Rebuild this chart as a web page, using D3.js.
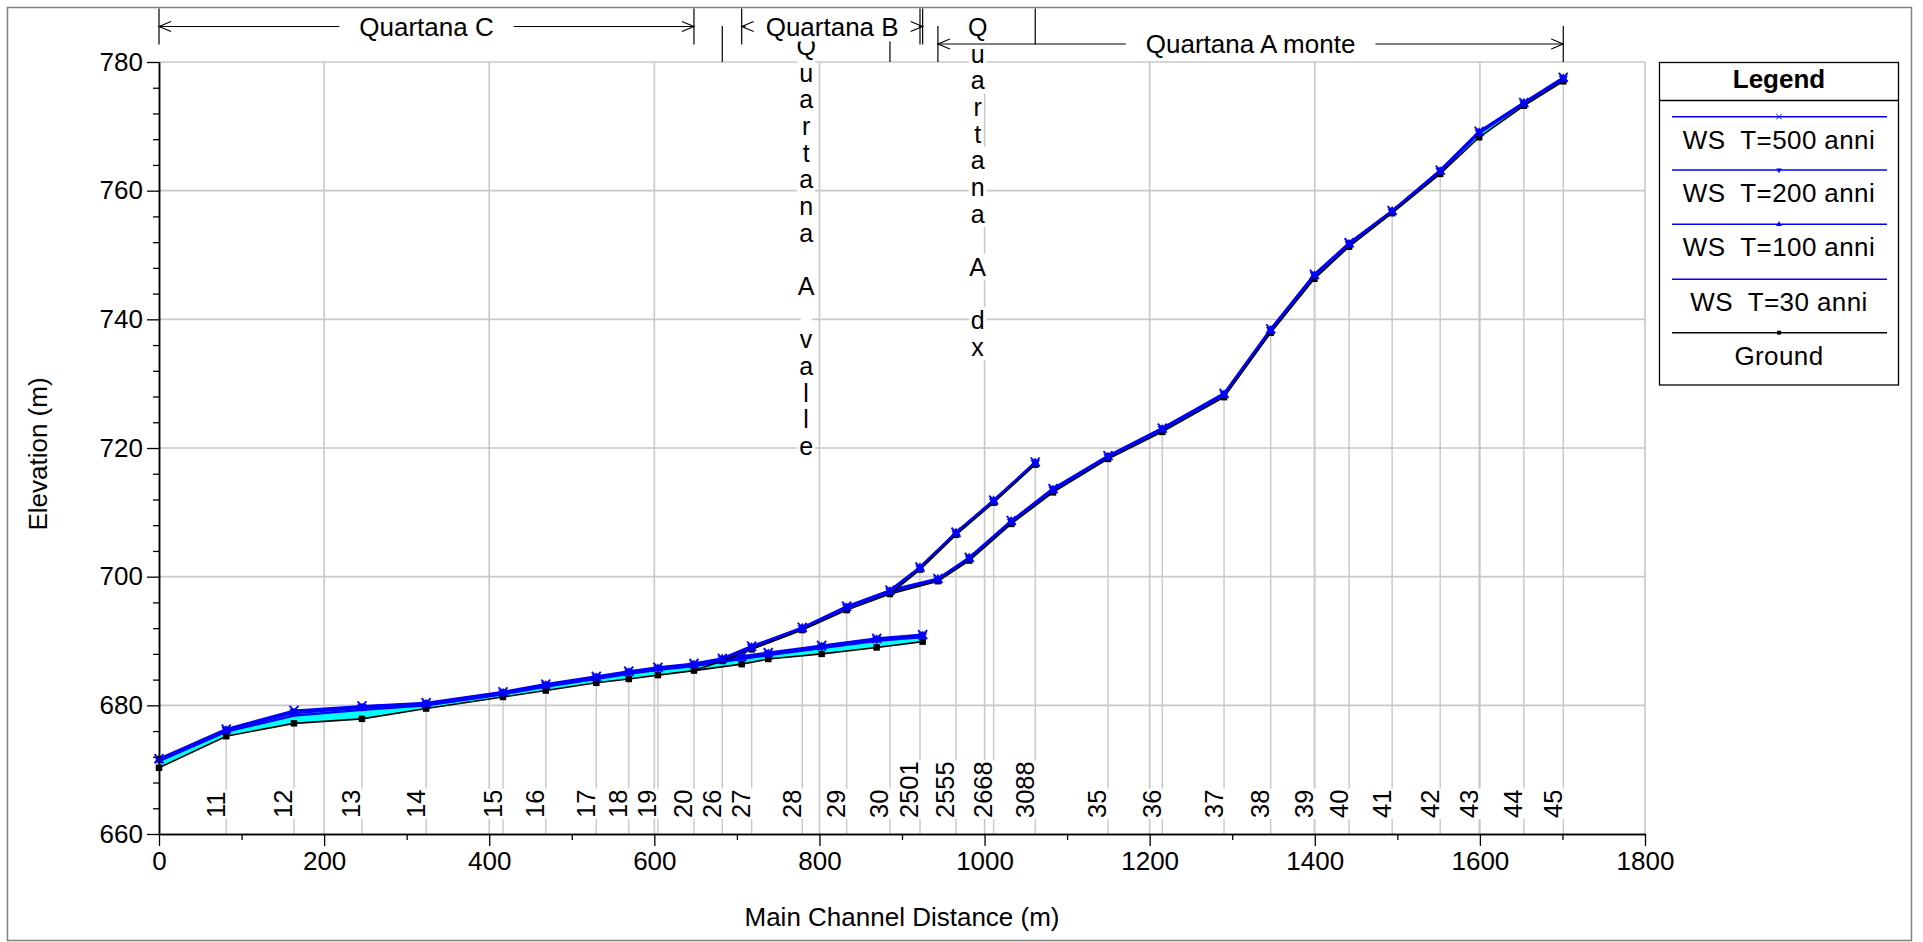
<!DOCTYPE html>
<html><head><meta charset="utf-8">
<script src="https://cdn.jsdelivr.net/npm/d3@7"></script>
<style>
html,body{margin:0;padding:0;background:#fff;}
svg{display:block;font-family:"Liberation Sans",Arial,Helvetica,sans-serif;}
</style></head><body>
<svg id="chart" width="1923" height="942"></svg>
<script>
// ---- Reaches of the Quartana network ----
const reachNames  = ["Quartana C", "Quartana A valle", "Quartana B", "Quartana A dx", "Quartana A monte"];
// reach whose last section each reach is joined to (junction)
const reachParent = [null, "Quartana C", "Quartana C", "Quartana A valle", "Quartana A valle"];

// ---- Cross sections (main channel distance in m, elevations in m) ----
const sectionReach = [
  "Quartana C","Quartana C","Quartana C","Quartana C","Quartana C","Quartana C",
  "Quartana C","Quartana C","Quartana C","Quartana C","Quartana C",
  "Quartana A valle","Quartana A valle","Quartana A valle","Quartana A valle","Quartana A valle",
  "Quartana B","Quartana B","Quartana B","Quartana B","Quartana B",
  "Quartana A dx","Quartana A dx","Quartana A dx","Quartana A dx",
  "Quartana A monte","Quartana A monte","Quartana A monte","Quartana A monte","Quartana A monte",
  "Quartana A monte","Quartana A monte","Quartana A monte","Quartana A monte","Quartana A monte",
  "Quartana A monte","Quartana A monte","Quartana A monte","Quartana A monte","Quartana A monte"
];
const sectionLabel = [
  "", "11","12","13","14","15","16","17","18","19","20",
  "26","27","28","29","30",
  "", "", "", "", "",
  "2501","2555","2668","3088",
  "", "", "", "", "35","36","37","38","39","40","41","42","43","44","45"
];
const sectionDistance = [
  0, 81.4, 163.5, 245.8, 323.6, 416.7, 468.5, 529.7, 569.0, 604.3, 648.0,
  682.3, 717.9, 779.2, 833.0, 885.4,
  705.8, 738.0, 802.7, 869.3, 925.0,
  921.8, 965.4, 1011.0, 1061.4,
  943.5, 981.5, 1032.4, 1082.9, 1149.5, 1215.3, 1290.1, 1346.6, 1399.5, 1441.6,
  1493.7, 1551.9, 1599.1, 1653.2, 1701.0
];
const groundElevation = [
  670.3, 675.2, 677.2, 677.9, 679.5, 681.3, 682.3, 683.5, 684.1, 684.7, 685.4,
  686.9, 688.7, 691.7, 694.8, 697.3,
  686.4, 687.2, 688.0, 689.0, 689.9,
  701.1, 706.5, 711.5, 717.4,
  699.3, 702.5, 708.2, 713.1, 718.3, 722.5, 727.9, 737.9, 746.3, 751.3,
  756.5, 762.6, 768.3, 773.2, 777.0
];
const wsT500 = [
  671.7, 676.3, 679.2, 679.9, 680.4, 682.1, 683.3, 684.5, 685.3, 685.9, 686.5,
  687.3, 689.2, 692.1, 695.4, 697.9,
  687.6, 688.2, 689.3, 690.4, 691.0,
  701.5, 706.9, 711.9, 717.8,
  699.7, 703.0, 708.7, 713.7, 718.8, 723.1, 728.5, 738.5, 747.0, 751.9,
  756.9, 763.2, 769.2, 773.7, 777.6
];
const wsT200 = [
  671.6, 676.2, 679.0, 679.8, 680.3, 682.0, 683.2, 684.4, 685.2, 685.8, 686.4,
  687.2, 689.1, 692.0, 695.3, 697.8,
  687.5, 688.1, 689.2, 690.3, 690.9,
  701.4, 706.8, 711.8, 717.7,
  699.6, 702.9, 708.6, 713.6, 718.7, 723.0, 728.4, 738.4, 746.9, 751.8,
  756.8, 763.1, 769.1, 773.6, 777.5
];
const wsT100 = [
  671.5, 676.1, 678.8, 679.6, 680.2, 681.9, 683.1, 684.3, 685.1, 685.7, 686.3,
  687.2, 689.0, 692.0, 695.2, 697.7,
  687.4, 688.0, 689.1, 690.2, 690.8,
  701.4, 706.8, 711.8, 717.7,
  699.6, 702.9, 708.6, 713.5, 718.6, 722.9, 728.3, 738.3, 746.8, 751.7,
  756.8, 763.0, 769.0, 773.6, 777.4
];
const wsT30 = [
  671.3, 675.9, 678.4, 679.3, 680.0, 681.7, 682.9, 684.1, 684.9, 685.5, 686.1,
  687.1, 688.9, 691.9, 695.1, 697.6,
  687.2, 687.8, 688.9, 690.0, 690.6,
  701.3, 706.7, 711.7, 717.6,
  699.5, 702.8, 708.5, 713.4, 718.5, 722.8, 728.2, 738.2, 746.7, 751.6,
  756.7, 762.9, 768.9, 773.5, 777.3
];

const seriesNames = ["WS  T=500 anni", "WS  T=200 anni", "WS  T=100 anni", "WS  T=30 anni", "Ground"];
const xTicks = [0, 200, 400, 600, 800, 1000, 1200, 1400, 1600, 1800];
const yTicks = [660, 680, 700, 720, 740, 760, 780];
const xMinorTicks = d3.range(100, 1800, 200);
const yMinorTicks = d3.range(664, 780, 4).filter(v => (v - 660) % 20 !== 0);

// ---- layout ----
const FONT = 26;
const GRID = "#c8c8c8";
const BLUE = "#0000ff";
const svg = d3.select("#chart");
const x = d3.scaleLinear().domain([0, 1800]).range([159, 1645]);
const y = d3.scaleLinear().domain([660, 780]).range([834, 62]);

// outer frame
svg.append("rect").attr("x", 7.5).attr("y", 7.5).attr("width", 1904).attr("height", 933)
  .attr("fill", "#fff").attr("stroke", "#808080").attr("stroke-width", 1.5);

// grid
const grid = svg.append("g");
grid.selectAll(".gx").data(xTicks.slice(1)).join("line")
  .attr("x1", d => x(d)).attr("x2", d => x(d)).attr("y1", y(660)).attr("y2", y(780))
  .attr("stroke", GRID).attr("stroke-width", 1.6);
grid.selectAll(".gy").data(yTicks.slice(1)).join("line")
  .attr("x1", x(0)).attr("x2", x(1800)).attr("y1", d => y(d)).attr("y2", d => y(d))
  .attr("stroke", GRID).attr("stroke-width", 1.6);

// section lines (from the axis up to the ground point)
const idxAll = d3.range(sectionDistance.length);
const labelled = idxAll.filter(i => sectionLabel[i] !== "");
grid.selectAll(".sec").data(labelled).join("line")
  .attr("x1", i => x(sectionDistance[i])).attr("x2", i => x(sectionDistance[i]))
  .attr("y1", y(660)).attr("y2", i => y(groundElevation[i]))
  .attr("stroke", GRID).attr("stroke-width", 1.4);

// section labels with white backing
const secG = svg.append("g");
labelled.forEach(i => {
  const g = secG.append("g")
    .attr("transform", `translate(${x(sectionDistance[i]) - 1.5},818) rotate(-90)`);
  const rect = g.append("rect").attr("fill", "#fff");
  const t = g.append("text").text(sectionLabel[i]).attr("x", 0).attr("y", 0)
    .attr("font-size", 25.5).attr("fill", "#000");
  const len = t.node().getComputedTextLength();
  rect.attr("x", -1).attr("y", -20).attr("width", len + 2).attr("height", 23.5);
});

// ---- profiles ----
const reachIdx = reachNames.map(r => idxAll.filter(i => sectionReach[i] === r));
const reachPath = reachNames.map((r, k) => {
  const p = reachParent[k];
  if (p === null) return reachIdx[k];
  const pi = reachIdx[reachNames.indexOf(p)];
  return [pi[pi.length - 1]].concat(reachIdx[k]);
});

const area = d3.area().x(i => x(sectionDistance[i]))
  .y0(i => y(groundElevation[i])).y1(i => y(wsT500[i]));
const lineOf = arr => d3.line().x(i => x(sectionDistance[i])).y(i => y(arr[i]));

const prof = svg.append("g");
reachPath.forEach(p => prof.append("path").attr("d", area(p)).attr("fill", "#00ffff"));
[wsT30, wsT100, wsT200, wsT500].forEach(arr => {
  reachPath.forEach(p => prof.append("path").attr("d", lineOf(arr)(p))
    .attr("fill", "none").attr("stroke", BLUE).attr("stroke-width", 2.2));
});
reachPath.forEach(p => prof.append("path").attr("d", lineOf(groundElevation)(p))
  .attr("fill", "none").attr("stroke", "#000").attr("stroke-width", 1.6));

// markers
const sq = d3.symbol().type(d3.symbolSquare).size(42)();
const tri = d3.symbol().type(d3.symbolTriangle).size(38)();
const crs = d3.symbol().type(d3.symbolX).size(55)();
const mk = svg.append("g");
mk.selectAll(".mg").data(idxAll).join("path").attr("d", sq)
  .attr("transform", i => `translate(${x(sectionDistance[i])},${y(groundElevation[i])})`)
  .attr("fill", "#000");
mk.selectAll(".m100").data(idxAll).join("path").attr("d", tri)
  .attr("transform", i => `translate(${x(sectionDistance[i])},${y(wsT100[i])})`)
  .attr("fill", BLUE);
mk.selectAll(".m200").data(idxAll).join("path").attr("d", tri)
  .attr("transform", i => `translate(${x(sectionDistance[i])},${y(wsT200[i])}) rotate(180)`)
  .attr("fill", BLUE);
mk.selectAll(".m500").data(idxAll).join("path").attr("d", crs)
  .attr("transform", i => `translate(${x(sectionDistance[i])},${y(wsT500[i])})`)
  .attr("fill", "none").attr("stroke", BLUE).attr("stroke-width", 1.8);

// ---- axes ----
function styleAxis(g) {
  g.select(".domain").attr("stroke", "#000").attr("stroke-width", 1.5);
  g.selectAll(".tick line").attr("stroke", "#000").attr("stroke-width", 1.3);
  g.selectAll("text").attr("font-size", FONT).attr("fill", "#000")
    .attr("font-family", "'Liberation Sans',Arial,sans-serif");
}
svg.append("g").attr("transform", `translate(${x(0)},0)`)
  .call(d3.axisLeft(y).tickValues(yMinorTicks).tickSize(6).tickFormat("").tickSizeOuter(0))
  .call(styleAxis);
svg.append("g").attr("transform", `translate(0,${y(660)})`)
  .call(d3.axisBottom(x).tickValues(xMinorTicks).tickSize(6).tickFormat("").tickSizeOuter(0))
  .call(styleAxis);
svg.append("g").attr("transform", `translate(${x(0)},0)`)
  .call(d3.axisLeft(y).tickValues(yTicks).tickSize(12).tickPadding(4).tickSizeOuter(0)
    .tickFormat(d3.format("d")))
  .call(styleAxis);
svg.append("g").attr("transform", `translate(0,${y(660)})`)
  .call(d3.axisBottom(x).tickValues(xTicks).tickSize(12).tickPadding(6).tickSizeOuter(0)
    .tickFormat(d3.format("d")))
  .call(styleAxis);

// axis titles
svg.append("text").attr("x", (x(0) + x(1800)) / 2).attr("y", 926)
  .attr("text-anchor", "middle").attr("font-size", FONT).text("Main Channel Distance (m)");
svg.append("text").attr("transform", "translate(47,454) rotate(-90)")
  .attr("text-anchor", "middle").attr("font-size", FONT).text("Elevation (m)");

// ---- reach annotations above the plot ----
const reachRow = [0, 1, 0, 0, 1];
const rowY = [26.5, 44];
const ann = svg.append("g");
const vertLayer = ann.append("g");
const horzLayer = ann.append("g");
const STEP = 26.67;

reachNames.forEach((name, k) => {
  const ids = reachIdx[k];
  const x0 = x(sectionDistance[ids[0]]);
  const x1 = x(sectionDistance[ids[ids.length - 1]]);
  const cy = rowY[reachRow[k]];
  const probe = horzLayer.append("text").attr("font-size", FONT).text(name);
  const w = probe.node().getComputedTextLength();
  probe.remove();

  // end ticks
  [x0, x1].forEach(xx => horzLayer.append("line")
    .attr("x1", xx).attr("x2", xx).attr("y1", cy - 18).attr("y2", cy + 18)
    .attr("stroke", "#000").attr("stroke-width", 1.2));

  if (w + 30 > x1 - x0) {
    // label stacked one character per line
    const xc = (x0 + x1) / 2;
    const firstC = cy + (reachRow[k] === 0 ? 0.5 : 2);
    Array.from(name).forEach((ch, j) => {
      const c = firstC + j * STEP;
      const t = vertLayer.append("text").attr("x", xc).attr("y", c + 9)
        .attr("text-anchor", "middle").attr("font-size", 25).text(ch);
      const cw = ch === " " ? 7 : t.node().getComputedTextLength();
      vertLayer.insert("rect", "text").attr("x", xc - cw / 2 - 2).attr("y", c - STEP / 2)
        .attr("width", cw + 4).attr("height", STEP).attr("fill", "#fff");
    });
  } else {
    const xc = (x0 + x1) / 2;
    const gap = 20;
    const tl = xc - w / 2, tr = xc + w / 2;
    const t = horzLayer.append("text").attr("x", xc).attr("y", cy + 9)
      .attr("text-anchor", "middle").attr("font-size", FONT).text(name);
    const bb = t.node().getBBox();
    horzLayer.insert("rect", () => t.node()).attr("x", bb.x).attr("y", bb.y)
      .attr("width", bb.width).attr("height", bb.height).attr("fill", "#fff");
    if (tl - gap > x0) horzLayer.append("line").attr("x1", x0).attr("x2", tl - gap)
      .attr("y1", cy).attr("y2", cy).attr("stroke", "#000").attr("stroke-width", 1.1);
    if (tr + gap < x1) horzLayer.append("line").attr("x1", tr + gap).attr("x2", x1)
      .attr("y1", cy).attr("y2", cy).attr("stroke", "#000").attr("stroke-width", 1.1);
    // open arrow heads
    horzLayer.append("path").attr("d", `M${x0 + 12},${cy - 5}L${x0},${cy}L${x0 + 12},${cy + 5}`)
      .attr("fill", "none").attr("stroke", "#000").attr("stroke-width", 1.1);
    horzLayer.append("path").attr("d", `M${x1 - 12},${cy - 5}L${x1},${cy}L${x1 - 12},${cy + 5}`)
      .attr("fill", "none").attr("stroke", "#000").attr("stroke-width", 1.1);
  }
});

// ---- legend ----
const lg = svg.append("g");
const LX0 = 1659.5, LX1 = 1898.5, LY0 = 62.5, LY1 = 385;
lg.append("rect").attr("x", LX0).attr("y", LY0).attr("width", LX1 - LX0).attr("height", LY1 - LY0)
  .attr("fill", "#fff").attr("stroke", "#000").attr("stroke-width", 1.3);
lg.append("line").attr("x1", LX0).attr("x2", LX1).attr("y1", 100.5).attr("y2", 100.5)
  .attr("stroke", "#000").attr("stroke-width", 1.3);
lg.append("text").attr("x", (LX0 + LX1) / 2).attr("y", 88).attr("text-anchor", "middle")
  .attr("font-size", FONT).attr("font-weight", "bold").text("Legend");
const legLineY = [116.7, 170, 224.3, 279.3, 332.7];
const legMarks = [crs, tri, tri, null, sq];
const lcx = (LX0 + LX1) / 2;
seriesNames.forEach((name, k) => {
  const ly = legLineY[k];
  const col = k === 4 ? "#000" : BLUE;
  lg.append("line").attr("x1", 1672).attr("x2", 1887).attr("y1", ly).attr("y2", ly)
    .attr("stroke", col).attr("stroke-width", 1.5);
  if (legMarks[k]) {
    const m = lg.append("path").attr("d", legMarks[k])
      .attr("transform", `translate(${lcx},${ly})${k === 1 ? " rotate(180)" : ""} scale(0.6)`);
    if (k === 0) m.attr("fill", "none").attr("stroke", col).attr("stroke-width", 1.6);
    else m.attr("fill", col);
  }
  lg.append("text").attr("x", lcx).attr("y", ly + 32).attr("text-anchor", "middle")
    .attr("font-size", FONT).style("white-space", "pre").attr("letter-spacing", 0.4).text(name);
});
</script>
</body></html>
